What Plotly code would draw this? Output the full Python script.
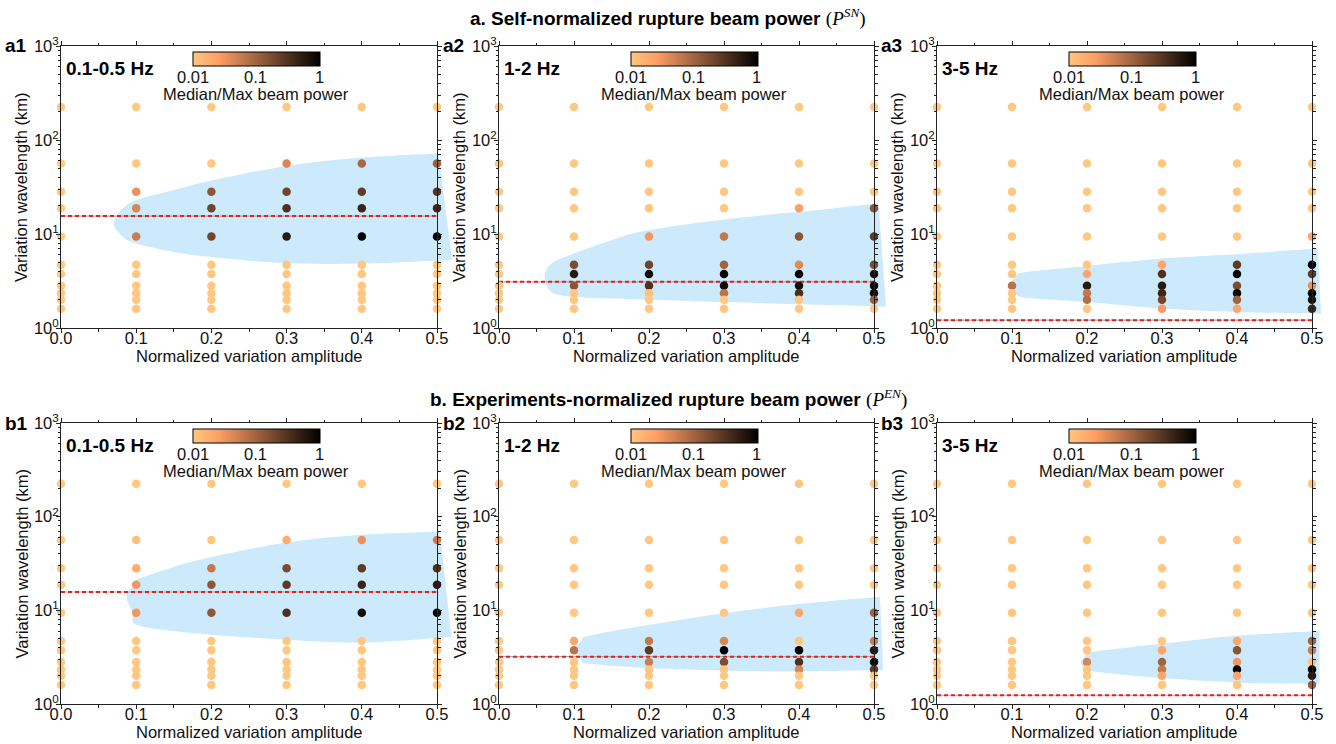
import numpy as np
import plotly.graph_objects as go

# ---------------- data ----------------
amplitudes = [0.0, 0.1, 0.2, 0.3, 0.4, 0.5]
wavelengths = [225, 56.3, 28.1, 18.8, 9.4, 4.7, 3.75, 2.81, 2.34, 2.0, 1.6]
amp_ticks = [0.0, 0.1, 0.2, 0.3, 0.4, 0.5]
amp_tick_text = ["0.0", "0.1", "0.2", "0.3", "0.4", "0.5"]
wl_ticks = [1, 10, 100, 1000]
wl_tick_text = ["10<sup>0</sup>", "10<sup>1</sup>", "10<sup>2</sup>", "10<sup>3</sup>"]
cb_ticks = [0.01, 0.1, 1]
cb_tick_text = ["0.01", "0.1", "1"]

# median/max beam power; rows = wavelengths (top to bottom), cols = amplitudes
power_a1 = [
    [.01, .01, .01, .01, .01, .01],
    [.01, .01, .01, .045, .09, .11],
    [.01, .035, .13, .20, .25, .30],
    [.01, .045, .20, .33, .42, .42],
    [.01, .055, .20, .55, 1.0, 1.0],
    [.01, .01, .01, .01, .01, .01],
    [.01, .01, .01, .01, .01, .01],
    [.01, .01, .01, .01, .01, .01],
    [.01, .01, .01, .01, .01, .01],
    [.01, .01, .01, .01, .01, .01],
    [.01, .01, .01, .01, .01, .01],
]
power_a2 = [
    [.01, .01, .01, .01, .01, .01],
    [.01, .01, .01, .01, .01, .01],
    [.01, .01, .01, .01, .01, .01],
    [.01, .01, .01, .01, .025, .14],
    [.01, .01, .03, .06, .14, .26],
    [.01, .17, .20, .10, .04, .17],
    [.01, .55, .85, 1.0, .95, .70],
    [.01, .14, .33, .75, .70, .90],
    [.01, .01, .012, .07, .35, .80],
    [.01, .01, .01, .01, .01, .11],
    [.01, .01, .01, .01, .01, .01],
]
power_a3 = [
    [.01, .01, .01, .01, .01, .01],
    [.01, .01, .01, .01, .01, .01],
    [.01, .01, .01, .01, .01, .01],
    [.01, .01, .01, .01, .01, .01],
    [.01, .01, .01, .01, .01, .022],
    [.01, .01, .01, .022, .26, 1.0],
    [.01, .01, .022, .33, 1.0, .26],
    [.01, .07, .55, .55, .17, .035],
    [.01, .01, .06, .42, .95, .95],
    [.01, .01, .075, .20, .10, .70],
    [.01, .01, .01, .028, .022, .42],
]
power_b1 = [
    [.01, .01, .01, .01, .01, .01],
    [.01, .012, .01, .018, .035, .055],
    [.01, .018, .06, .17, .26, .33],
    [.01, .03, .13, .26, .42, .55],
    [.01, .03, .13, .33, .75, 1.0],
    [.01, .01, .01, .01, .01, .01],
    [.01, .01, .01, .01, .01, .01],
    [.01, .01, .01, .01, .01, .01],
    [.01, .01, .01, .01, .01, .01],
    [.01, .01, .01, .01, .01, .01],
    [.01, .01, .01, .01, .01, .01],
]
power_b2 = [
    [.01, .01, .01, .01, .01, .01],
    [.01, .01, .01, .01, .01, .01],
    [.01, .01, .01, .01, .01, .01],
    [.01, .01, .01, .01, .01, .01],
    [.01, .01, .01, .01, .022, .10],
    [.01, .022, .06, .045, .01, .055],
    [.01, .07, .26, .90, 1.0, .55],
    [.01, .01, .055, .17, .33, .90],
    [.01, .01, .01, .01, .045, .26],
    [.01, .01, .01, .01, .01, .01],
    [.01, .01, .01, .01, .01, .01],
]
power_b3 = [
    [.01, .01, .01, .01, .01, .01],
    [.01, .01, .01, .01, .01, .01],
    [.01, .01, .01, .01, .01, .01],
    [.01, .01, .01, .01, .01, .01],
    [.01, .01, .01, .01, .01, .01],
    [.01, .01, .01, .01, .022, .10],
    [.01, .01, .01, .022, .14, .055],
    [.01, .01, .045, .10, .03, .012],
    [.01, .01, .01, .06, 1.0, 1.0],
    [.01, .01, .01, .022, .022, .55],
    [.01, .01, .01, .01, .01, .11],
]

# red dashed reference wavelength per panel
ref_wavelength = [15.5, 3.1, 1.21, 15.7, 3.2, 1.24]

# blue favourable regions: upper and lower boundaries (both start at the apex)
region_up_x = [
    [0.070, 0.080, 0.10, 0.15, 0.20, 0.30, 0.40, 0.502],
    [0.061, 0.070, 0.10, 0.15, 0.20, 0.30, 0.40, 0.506],
    [0.099, 0.105, 0.12, 0.20, 0.30, 0.40, 0.508],
    [0.087, 0.095, 0.10, 0.15, 0.20, 0.30, 0.40, 0.504],
    [0.103, 0.110, 0.12, 0.20, 0.30, 0.40, 0.508],
    [0.192, 0.200, 0.21, 0.30, 0.40, 0.510],
]
region_up_y = [
    [12.9, 17.9, 22.9, 29.3, 37.0, 53.0, 65.0, 72.0],
    [3.49, 4.85, 6.2, 8.6, 11.0, 14.3, 17.2, 21.3],
    [2.85, 3.6, 3.95, 4.57, 5.48, 6.1, 7.0],
    [14.0, 18.0, 21.1, 29.0, 37.0, 53.0, 64.0, 69.0],
    [3.79, 4.8, 5.35, 7.0, 9.33, 11.7, 14.0],
    [2.78, 3.4, 3.64, 4.4, 5.35, 6.0],
]
region_lo_x = [
    [0.070, 0.080, 0.10, 0.15, 0.20, 0.30, 0.40, 0.520],
    [0.061, 0.070, 0.10, 0.15, 0.20, 0.30, 0.40, 0.516],
    [0.099, 0.105, 0.12, 0.20, 0.30, 0.40, 0.512],
    [0.087, 0.095, 0.10, 0.15, 0.20, 0.30, 0.40, 0.519],
    [0.103, 0.110, 0.12, 0.20, 0.30, 0.40, 0.512],
    [0.192, 0.200, 0.21, 0.30, 0.40, 0.510],
]
region_lo_y = [
    [12.9, 9.7, 7.9, 6.45, 5.7, 4.9, 4.85, 5.3],
    [3.49, 2.42, 2.14, 2.06, 2.0, 1.89, 1.79, 1.69],
    [2.85, 2.3, 2.1, 1.89, 1.61, 1.48, 1.42],
    [14.0, 9.5, 7.0, 6.0, 5.5, 4.85, 4.54, 5.2],
    [3.79, 2.95, 2.69, 2.42, 2.28, 2.23, 2.3],
    [2.78, 2.35, 2.23, 1.89, 1.7, 1.63],
]

panel_labels = ["a1", "a2", "a3", "b1", "b2", "b3"]
band_labels = ["0.1-0.5 Hz", "1-2 Hz", "3-5 Hz", "0.1-0.5 Hz", "1-2 Hz", "3-5 Hz"]
powers = [power_a1, power_a2, power_a3, power_b1, power_b2, power_b3]
x_title = "Normalized variation amplitude"
y_title = "Variation wavelength (km)"
cb_title = "Median/Max beam power"
row_titles = [
    "<b>a. Self-normalized rupture beam power</b> "
    "<span style='font-family:Liberation Serif'>(<i>P</i><sup><i>SN</i></sup>)</span>",
    "<b>b. Experiments-normalized rupture beam power</b> "
    "<span style='font-family:Liberation Serif'>(<i>P</i><sup><i>EN</i></sup>)</span>",
]

# ---------------- layout constants ----------------
W, H = 1336, 744
col_px = [(61, 437), (499, 874), (937, 1312)]
row_px = [(46, 328), (423, 704)]
title_px = [18, 398]
XR = [0.0, 0.5]
CB_OFF, CB_LEN = 131.5, 126.5
FONT = "Liberation Sans, Arial, Helvetica, sans-serif"
FS = 16.5
AX = "#222222"
TXT = "#111111"
BLUE = "rgb(204,234,251)"
colorscale = [[0, "rgb(255,199,127)"], [0.2, "rgb(255,159,101)"], [1, "rgb(0,0,0)"]]


def fx(p):
    return p / W


def fy(p):
    return 1 - p / H


def region_path(ux, uy, lx, ly):
    px = list(reversed(ux)) + lx[1:]
    py = list(reversed(uy)) + ly[1:]
    xd = [(x - XR[0]) / (XR[1] - XR[0]) for x in px]
    lg = [np.log10(y) for y in py]
    n = len(xd)
    s = f"M{xd[0]:.5f},{10 ** lg[0]:.5f}"
    for k in range(n - 1):
        p0 = k - 1 if k > 0 else k
        p3 = k + 2 if k + 2 < n else k + 1
        c1x = xd[k] + (xd[k + 1] - xd[p0]) / 6
        c1y = lg[k] + (lg[k + 1] - lg[p0]) / 6
        c2x = xd[k + 1] - (xd[p3] - xd[k]) / 6
        c2y = lg[k + 1] - (lg[p3] - lg[k]) / 6
        s += (f" C{c1x:.5f},{10 ** c1y:.5f} {c2x:.5f},{10 ** c2y:.5f}"
              f" {xd[k + 1]:.5f},{10 ** lg[k + 1]:.5f}")
    return s + " Z"


fig = go.Figure()
shapes, annotations = [], []
minor_y = [k * 10 ** d for d in range(3) for k in range(2, 10)]
minor_x = [0.05, 0.15, 0.25, 0.35, 0.45]
tf = dict(family=FONT, size=FS, color=TXT)
cmin, cmax = np.log10(cb_ticks[0]), np.log10(cb_ticks[-1])

for i in range(6):
    r, c = divmod(i, 3)
    n = i + 1
    sfx = "" if n == 1 else str(n)
    xa, ya = "x" + sfx, "y" + sfx
    x0p, x1p = col_px[c]
    y0p, y1p = row_px[r]

    fig.update_layout({
        "xaxis" + sfx: dict(
            domain=[fx(x0p), fx(x1p)], range=XR, anchor=ya,
            tickvals=amp_ticks, ticktext=amp_tick_text,
            ticks="outside", ticklen=4, tickwidth=1, tickcolor=AX,
            ticklabelstandoff=-9,
            minor=dict(tickvals=minor_x, ticks="outside", ticklen=2.5, tickcolor=AX),
            showline=True, linecolor=AX, linewidth=1, mirror="allticks",
            showgrid=False, zeroline=False, automargin=False, tickfont=tf,
        ),
        "yaxis" + sfx: dict(
            type="log", domain=[fy(y1p), fy(y0p)], range=[0, 3], anchor=xa,
            tickvals=wl_ticks, ticktext=wl_tick_text,
            ticks="outside", ticklen=4, tickwidth=1, tickcolor=AX,
            ticklabelstandoff=-6,
            minor=dict(tickvals=minor_y, ticks="outside", ticklen=2.5, tickcolor=AX),
            showline=True, linecolor=AX, linewidth=1, mirror="allticks",
            showgrid=False, zeroline=False, automargin=False, tickfont=tf,
        ),
        "coloraxis" + sfx: dict(
            cmin=cmin, cmax=cmax, colorscale=colorscale,
            colorbar=dict(
                orientation="h", x=fx(x0p + CB_OFF), xanchor="left",
                y=fy(y0p + 6), yanchor="top",
                len=CB_LEN, lenmode="pixels", thickness=14, thicknessmode="pixels",
                xpad=0, ypad=0, outlinewidth=1, outlinecolor="black",
                tickvals=[np.log10(v) for v in cb_ticks], showticklabels=False,
                ticks="",
            ),
        ),
    })

    # favourable region
    shapes.append(dict(
        type="path", xref=xa + " domain", yref=ya, layer="below",
        path=region_path(region_up_x[i], region_up_y[i], region_lo_x[i], region_lo_y[i]),
        fillcolor=BLUE, line=dict(width=0),
    ))

    # reference wavelength line
    fig.add_trace(go.Scatter(
        x=[XR[0], XR[1]], y=[ref_wavelength[i]] * 2, xaxis=xa, yaxis=ya,
        mode="lines", line=dict(color="rgba(150,150,150,0.8)", width=1.2),
        showlegend=False, hoverinfo="skip"))
    fig.add_trace(go.Scatter(
        x=[XR[0], XR[1]], y=[ref_wavelength[i]] * 2, xaxis=xa, yaxis=ya,
        mode="lines", line=dict(color="#e3221f", width=2, dash="4px,3px"),
        showlegend=False, hoverinfo="skip"))

    # scatter grid
    xs, ys, cs = [], [], []
    for wi, wl in enumerate(wavelengths):
        for ai, amp in enumerate(amplitudes):
            xs.append(amp)
            ys.append(wl)
            cs.append(np.log10(powers[i][wi][ai]))
    fig.add_trace(go.Scatter(
        x=xs, y=ys, xaxis=xa, yaxis=ya, mode="markers", cliponaxis=False,
        marker=dict(size=8.5, color=cs, coloraxis="coloraxis" + sfx, line=dict(width=0)),
        showlegend=False))

    # labels
    annotations += [
        dict(text=f"<b>{panel_labels[i]}</b>", xref="paper", yref="paper",
             x=fx(x0p - 58), y=fy(y0p), xanchor="left", yanchor="middle",
             showarrow=False, font=dict(family=FONT, size=19, color="#000")),
        dict(text=f"<b>{band_labels[i]}</b>", xref="paper", yref="paper",
             x=fx(x0p + 3), y=fy(y0p + 22), xanchor="left", yanchor="middle",
             showarrow=False, font=dict(family=FONT, size=19, color="#000")),
        dict(text=x_title, xref="paper", yref="paper",
             x=fx((x0p + x1p) / 2), y=fy(y1p + 27.5), xanchor="center", yanchor="middle",
             showarrow=False, font=tf),
        dict(text=y_title, xref="paper", yref="paper", textangle=-90,
             x=fx(x0p - 40), y=fy((y0p + y1p) / 2), xanchor="center", yanchor="middle",
             showarrow=False, font=tf),
        dict(text=cb_title, xref="paper", yref="paper",
             x=fx(x0p + CB_OFF + CB_LEN / 2), y=fy(y0p + 47.5), xanchor="center",
             yanchor="middle", showarrow=False, font=tf),
    ]
    for v, t in zip(cb_ticks, cb_tick_text):
        frac = (np.log10(v) - cmin) / (cmax - cmin)
        annotations.append(dict(
            text=t, xref="paper", yref="paper",
            x=fx(x0p + CB_OFF + frac * CB_LEN), y=fy(y0p + 31.5),
            xanchor="center", yanchor="middle", showarrow=False, font=tf))

for r in range(2):
    annotations.append(dict(
        text=row_titles[r], xref="paper", yref="paper",
        x=0.5, y=fy(title_px[r]), xanchor="center", yanchor="middle",
        showarrow=False, font=dict(family=FONT, size=19, color="#000")))

fig.update_layout(
    width=W, height=H, margin=dict(l=0, r=0, t=0, b=0, autoexpand=False),
    paper_bgcolor="white", plot_bgcolor="rgba(0,0,0,0)",
    shapes=shapes, annotations=annotations, showlegend=False,
    font=dict(family=FONT, size=FS, color=TXT),
)

fig.write_html("out.html")
